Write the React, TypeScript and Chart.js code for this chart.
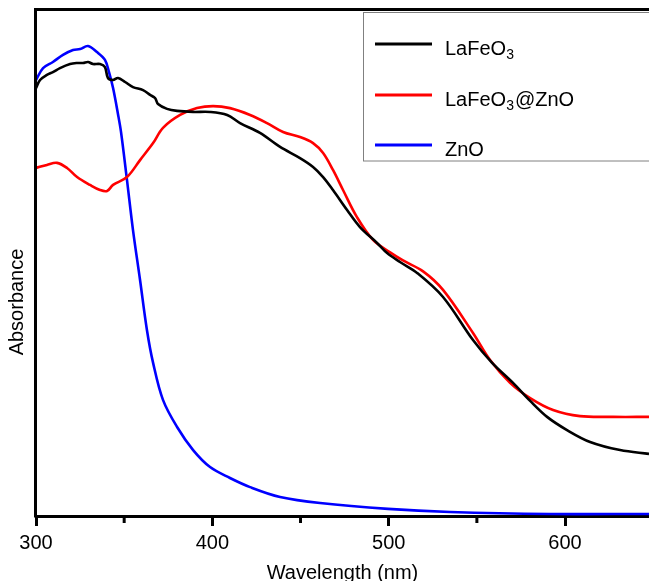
import React, { useEffect, useRef } from 'react';
import { Chart, registerables } from 'chart.js';

Chart.register(...registerables);

const FONT = '"Liberation Sans", Arial, Helvetica, sans-serif';

// LaFeO3 (black)
const lafeoWavelength = [300.0, 302.3, 306.2, 309.6, 313.6, 319.3, 323.3, 326.7, 329.5, 332.3, 336.3, 339.1, 340.8, 343.7, 346.5, 350.5, 355.0, 360.7, 364.7, 367.5, 369.2, 374.3, 380.0, 389.1, 398.7, 408.4, 415.7, 427.0, 438.4, 449.7, 457.1, 462.8, 468.4, 476.4, 483.7, 493.4, 499.1, 506.4, 516.1, 530.8, 547.8, 558.5, 570.5, 580.2, 589.8, 601.1, 614.2, 631.2, 647.6];
const lafeoAbs = [1.688, 1.720, 1.740, 1.751, 1.767, 1.783, 1.787, 1.787, 1.791, 1.783, 1.783, 1.771, 1.728, 1.720, 1.728, 1.712, 1.692, 1.680, 1.661, 1.649, 1.625, 1.606, 1.598, 1.594, 1.594, 1.582, 1.550, 1.511, 1.456, 1.412, 1.377, 1.337, 1.286, 1.207, 1.140, 1.077, 1.037, 1.002, 0.959, 0.864, 0.694, 0.605, 0.525, 0.454, 0.391, 0.339, 0.292, 0.260, 0.245];

// LaFeO3@ZnO (red)
const compositeWavelength = [300.0, 306.2, 311.9, 317.6, 323.3, 330.6, 336.3, 340.3, 343.7, 351.6, 359.0, 366.4, 372.0, 381.7, 391.3, 400.4, 410.0, 421.4, 431.0, 440.1, 449.7, 457.1, 462.8, 468.4, 474.1, 482.0, 491.1, 500.8, 508.1, 519.5, 530.8, 547.8, 557.5, 568.8, 580.2, 593.2, 608.5, 627.2, 647.6];
const compositeAbs = [1.373, 1.385, 1.393, 1.373, 1.337, 1.306, 1.286, 1.282, 1.306, 1.337, 1.404, 1.471, 1.531, 1.582, 1.609, 1.617, 1.609, 1.582, 1.550, 1.515, 1.495, 1.471, 1.432, 1.365, 1.286, 1.179, 1.089, 1.040, 1.008, 0.965, 0.892, 0.722, 0.615, 0.525, 0.465, 0.418, 0.394, 0.391, 0.391];

// ZnO (blue)
const znoWavelength = [300.0, 304.0, 309.6, 315.3, 321.0, 325.0, 329.5, 334.6, 339.1, 341.4, 343.7, 346.5, 348.2, 351.6, 355.0, 359.0, 362.9, 366.4, 372.0, 380.0, 389.1, 398.7, 410.0, 421.4, 438.4, 461.1, 499.6, 534.8, 591.5, 647.6];
const znoAbs = [1.720, 1.767, 1.791, 1.819, 1.838, 1.842, 1.854, 1.830, 1.799, 1.751, 1.688, 1.585, 1.515, 1.325, 1.128, 0.931, 0.734, 0.604, 0.458, 0.351, 0.260, 0.193, 0.150, 0.114, 0.075, 0.051, 0.028, 0.016, 0.008, 0.008];

const xTicks = [300, 400, 500, 600];
const xMinorTicks = [350, 450, 550];

const legendItems = [
  { parts: [['LaFeO', 0], ['3', 1]], color: '#000000' },
  { parts: [['LaFeO', 0], ['3', 1], ['@ZnO', 0]], color: '#ff0000' },
  { parts: [['ZnO', 0]], color: '#0000ff' },
];

export default function App() {
  const ref = useRef<HTMLCanvasElement>(null);

  useEffect(() => {
    document.body.style.margin = '0';
    const canvas = ref.current;
    if (!canvas) return;
    const zip = (xs: number[], ys: number[]) => xs.map((x, i) => ({ x, y: ys[i] }));

    const decor = {
      id: 'decor',
      afterDatasetsDraw(chart: any) {
        const { ctx, chartArea: a, scales } = chart;
        const xs = scales.x;
        ctx.save();
        ctx.strokeStyle = '#000';
        ctx.lineWidth = 3;
        ctx.beginPath();
        ctx.moveTo(a.left - 0.5, a.bottom + 1.5);
        ctx.lineTo(a.left - 0.5, a.top + 0.5);
        ctx.lineTo(chart.width, a.top + 0.5);
        ctx.stroke();
        xMinorTicks.forEach((v) => {
          const px = xs.getPixelForValue(v);
          ctx.beginPath();
          ctx.moveTo(px, a.bottom + 1);
          ctx.lineTo(px, a.bottom + 7);
          ctx.stroke();
        });
        ctx.restore();

        // y title
        ctx.save();
        ctx.fillStyle = '#000';
        ctx.font = `20px ${FONT}`;
        ctx.textAlign = 'center';
        ctx.textBaseline = 'middle';
        ctx.translate(17.5, 302);
        ctx.rotate(-Math.PI / 2);
        ctx.fillText('Absorbance', 0, 0);
        ctx.restore();

        // legend
        ctx.save();
        ctx.fillStyle = '#fff';
        ctx.fillRect(363.5, 12.5, 400, 148.5);
        ctx.strokeStyle = '#808080';
        ctx.lineWidth = 1;
        ctx.strokeRect(363.5, 12.5, 400, 148.5);
        const rows = [44, 95, 145];
        legendItems.forEach((item, i) => {
          const y = rows[i];
          ctx.strokeStyle = item.color;
          ctx.lineWidth = 3;
          ctx.beginPath();
          ctx.moveTo(375, y);
          ctx.lineTo(432, y);
          ctx.stroke();
          let x = 445;
          ctx.fillStyle = '#000';
          ctx.textAlign = 'left';
          ctx.textBaseline = 'alphabetic';
          item.parts.forEach(([txt, sub]) => {
            if (sub) {
              ctx.font = `14px ${FONT}`;
              ctx.fillText(txt as string, x, y + 15);
            } else {
              ctx.font = `20px ${FONT}`;
              ctx.fillText(txt as string, x, y + 11);
            }
            x += ctx.measureText(txt as string).width + (sub ? 1 : 0);
          });
        });
        ctx.restore();
      },
    };

    const chart = new Chart(canvas, {
      type: 'line',
      data: {
        datasets: [
          { label: 'LaFeO3', data: zip(lafeoWavelength, lafeoAbs), borderColor: '#000000', borderWidth: 2.6 },
          { label: 'LaFeO3@ZnO', data: zip(compositeWavelength, compositeAbs), borderColor: '#ff0000', borderWidth: 2.6 },
          { label: 'ZnO', data: zip(znoWavelength, znoAbs), borderColor: '#0000ff', borderWidth: 2.6 },
        ],
      },
      options: {
        animation: false,
        responsive: false,
        devicePixelRatio: 1,
        parsing: false as any,
        elements: {
          point: { radius: 0 },
          line: { tension: 0.35, fill: false },
        },
        layout: { padding: { left: 36, top: 9, right: 0, bottom: 0 } },
        plugins: { legend: { display: false }, tooltip: { enabled: false } },
        scales: {
          x: {
            type: 'linear',
            min: 300,
            max: 647.6,
            afterBuildTicks: (s: any) => {
              s.ticks = xTicks.map((v) => ({ value: v }));
            },
            afterFit: (s: any) => {
              s.height = 65;
            },
            ticks: {
              color: '#000',
              font: { family: FONT, size: 20 },
              padding: 5,
              maxRotation: 0,
              autoSkip: false,
              callback: (v: any) => String(v),
            },
            grid: {
              display: true,
              drawOnChartArea: false,
              drawTicks: true,
              tickLength: 10,
              tickWidth: 3,
              tickColor: '#000',
            },
            border: { display: true, color: '#000', width: 3 },
            title: {
              display: true,
              text: 'Wavelength (nm)',
              color: '#000',
              font: { family: FONT, size: 20, lineHeight: 0.8 },
              padding: 0,
            },
          },
          y: { display: false, min: 0, max: 2 },
        },
      },
      plugins: [decor],
    });
    return () => chart.destroy();
  }, []);

  return (
    <div style={{ position: 'fixed', left: 0, top: 0, width: 649, height: 581, background: '#fff' }}>
      <canvas ref={ref} width={649} height={581} style={{ display: 'block' }} />
    </div>
  );
}
